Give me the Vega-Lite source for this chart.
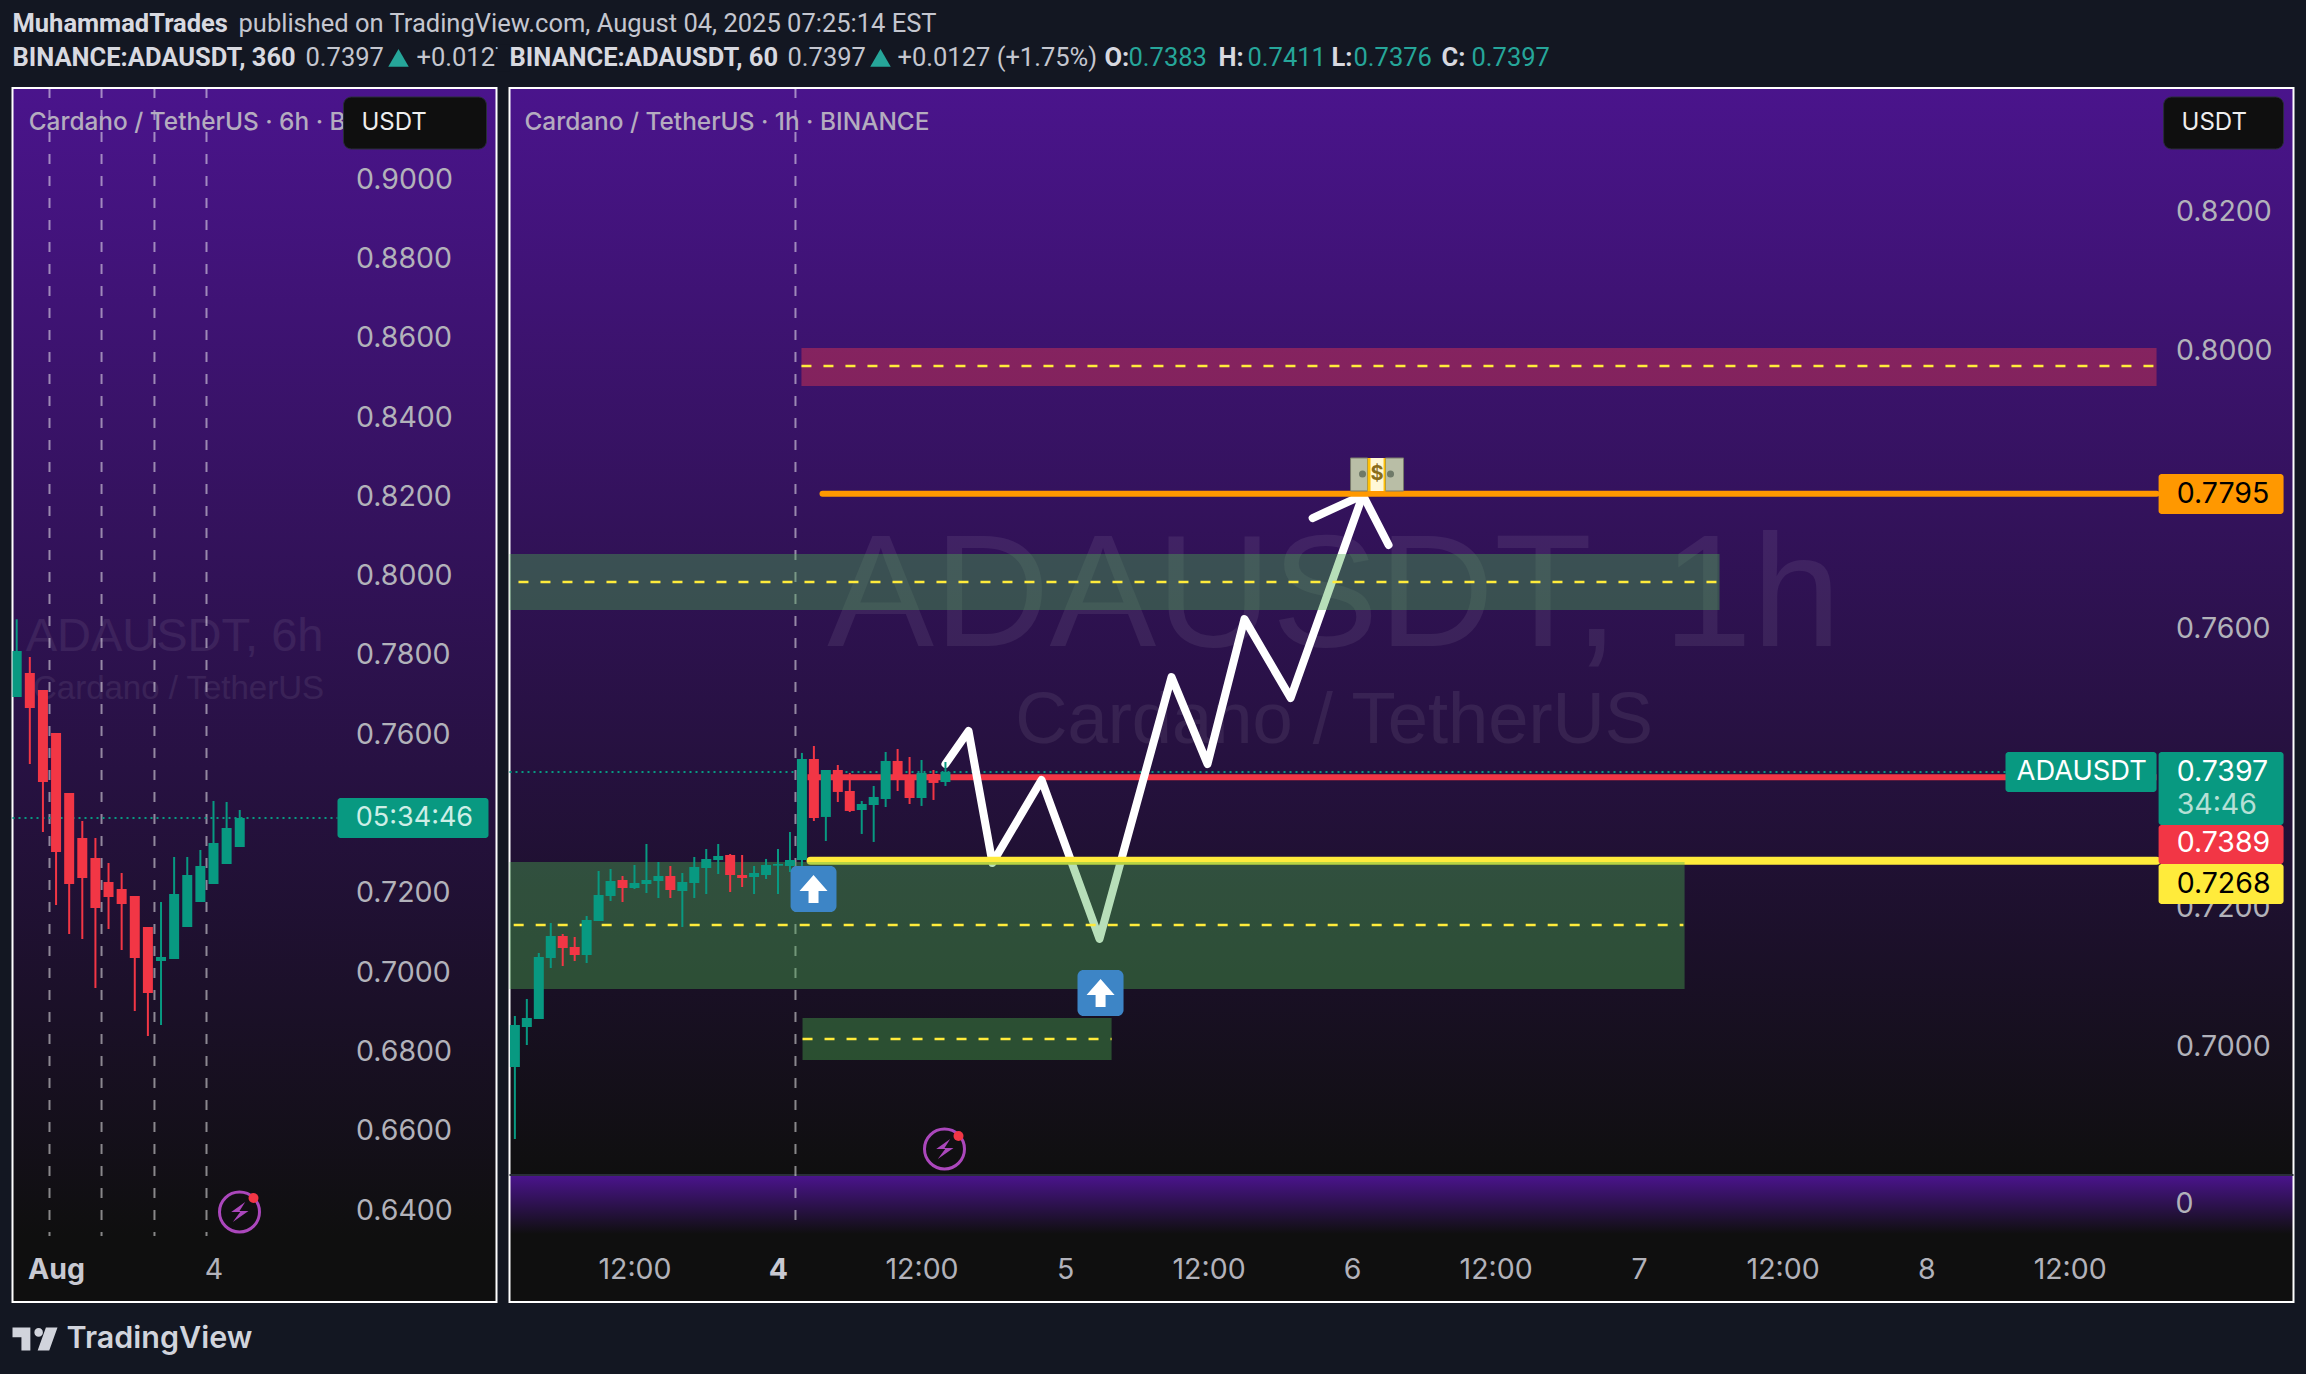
{"$schema":"https://vega.github.io/schema/vega-lite/v6.json","background":"#131722","padding":{"left":10.5,"right":13.5,"top":0,"bottom":0},"spacing":0,"config":{"font":"Inter","concat":{"spacing":0},"view":{"stroke":null}},
"vconcat":[
{"width":2280,"height":86,"view":{"stroke":null},
"encoding":{"x":{"field":"col","type":"quantitative","scale":{"domain":[12,2292],"nice":false,"zero":false},"axis":null},"y":{"field":"row","type":"quantitative","scale":{"domain":[2.824,0.294],"nice":false,"zero":false},"axis":null},"text":{"field":"label"}},
"layer":[
{"data":{"values":[{"col":238,"row":1,"label":"published on TradingView.com, August 04, 2025 07:25:14 EST"},{"col":305,"row":2,"label":"0.7397"},{"col":416,"row":2,"label":"+0.0127"},{"col":787,"row":2,"label":"0.7397"},{"col":897,"row":2,"label":"+0.0127 (+1.75%)"}]},"mark":{"type":"text","font":"Roboto","fontSize":25.5,"align":"left","baseline":"middle","color":"#c4c6cf"}},
{"data":{"values":[{"col":497,"col2":509,"row":1.6,"row2":2.4}]},"encoding":{"text":null,"x2":{"field":"col2"},"y2":{"field":"row2"}},"mark":{"type":"rect","fill":"#131722"}},
{"data":{"values":[{"col":12,"row":1,"label":"MuhammadTrades"},{"col":12,"row":2,"label":"BINANCE:ADAUSDT, 360"},{"col":509,"row":2,"label":"BINANCE:ADAUSDT, 60"},{"col":1104,"row":2,"label":"O:"},{"col":1218,"row":2,"label":"H:"},{"col":1331,"row":2,"label":"L:"},{"col":1441,"row":2,"label":"C:"}]},"mark":{"type":"text","font":"Roboto","fontWeight":"bold","fontSize":25.5,"align":"left","baseline":"middle","color":"#d8d9e0"}},
{"data":{"values":[{"col":1128,"row":2,"label":"0.7383"},{"col":1247,"row":2,"label":"0.7411"},{"col":1353,"row":2,"label":"0.7376"},{"col":1471,"row":2,"label":"0.7397"}]},"mark":{"type":"text","font":"Roboto","fontSize":25.5,"align":"left","baseline":"middle","color":"#26a69a"}},
{"data":{"values":[{"col":398,"row":2},{"col":880,"row":2}]},"encoding":{"text":null},"mark":{"type":"point","shape":"triangle-up","filled":true,"size":420,"color":"#26a69a","opacity":1}}
]},
{"hconcat":[
{"width":484,"height":1214,"view":{"fill":{"gradient":"linear","x1":0,"y1":0,"x2":0,"y2":1,"stops":[{"offset":0,"color":"#4a148c"},{"offset":0.9456,"color":"#0f0f0f"},{"offset":1,"color":"#0f0f0f"}]},"stroke":"#ffffff","strokeWidth":2},
"encoding":{"x":{"field":"t","type":"quantitative","scale":{"domain":[-91.92,129.42],"nice":false,"zero":false,"padding":0},"axis":{"orient":"bottom","values":[-72,0],"labelExpr":"datum.value==-72?'Aug':'4'","labelFontSize":28.5,"labelColor":{"condition":{"test":"datum.value==-72","value":"#c8c9d2"},"value":"#b2b2ba"},"labelFontWeight":{"condition":{"test":"datum.value==-72","value":"bold"},"value":"normal"},"labelPadding":-47,"ticks":false,"domain":false,"grid":false,"title":null,"labelOverlap":false,"labelFlush":false}},
"y":{"field":"p","type":"quantitative","scale":{"domain":[0.61688,0.92295],"nice":false,"zero":false},"axis":{"orient":"right","values":[0.64,0.66,0.68,0.7,0.72,0.76,0.78,0.8,0.82,0.84,0.86,0.88,0.9],"format":".4f","labelFontSize":28.5,"labelColor":"#b2b2ba","labelPadding":-141,"labelAlign":"left","ticks":false,"domain":false,"grid":false,"title":null,"labelOverlap":false}}},
"layer":[
{"data":{"values":[{"t":-17.8,"p":0.78446,"label":"ADAUSDT, 6h"}]},"encoding":{"text":{"field":"label"}},"mark":{"type":"text","font":"Liberation Sans","fontSize":47,"align":"center","baseline":"middle","color":"#ffffff","opacity":0.07}},
{"data":{"values":[{"t":-16,"p":0.77136,"label":"Cardano / TetherUS"}]},"encoding":{"text":{"field":"label"}},"mark":{"type":"text","font":"Liberation Sans","fontSize":33,"align":"center","baseline":"middle","color":"#ffffff","opacity":0.07}},
{"data":{"values":[{"t":-75,"p":0.92295,"p2":0.63352},{"t":-51.2,"p":0.92295,"p2":0.63352},{"t":-27,"p":0.92295,"p2":0.63352},{"t":-3.2,"p":0.92295,"p2":0.63352}]},"encoding":{"y2":{"field":"p2"}},"mark":{"type":"rule","color":"#ffffff","opacity":0.5,"strokeWidth":2,"strokeDash":[10,12]}},
{"data":{"values":[{"t":-91.92,"t2":56.7,"p":0.73891}]},"encoding":{"x2":{"field":"t2"}},"mark":{"type":"rule","color":"#089981","strokeWidth":2,"strokeDash":[2,4]}},
{"data":{"name":"c6h","values":[
{"t":-90,"open":0.76941,"high":0.78899,"low":0.76941,"close":0.781,"kind":"up"},
{"t":-84,"open":0.77546,"high":0.77949,"low":0.75251,"close":0.76663,"kind":"down"},
{"t":-78,"open":0.77117,"high":0.77117,"low":0.73537,"close":0.74798,"kind":"down"},
{"t":-72,"open":0.76033,"high":0.76033,"low":0.71697,"close":0.73033,"kind":"down"},
{"t":-66,"open":0.7452,"high":0.7452,"low":0.70966,"close":0.72226,"kind":"down"},
{"t":-60,"open":0.73386,"high":0.73814,"low":0.70839,"close":0.72377,"kind":"down"},
{"t":-54,"open":0.72881,"high":0.73386,"low":0.69604,"close":0.71621,"kind":"down"},
{"t":-48,"open":0.72276,"high":0.72755,"low":0.71092,"close":0.71898,"kind":"down"},
{"t":-42,"open":0.721,"high":0.72503,"low":0.70562,"close":0.71722,"kind":"down"},
{"t":-36,"open":0.71924,"high":0.71924,"low":0.69024,"close":0.7036,"kind":"down"},
{"t":-30,"open":0.71142,"high":0.71142,"low":0.68394,"close":0.69478,"kind":"down"},
{"t":-24,"open":0.70285,"high":0.71772,"low":0.68671,"close":0.70385,"kind":"up"},
{"t":-18,"open":0.70335,"high":0.72907,"low":0.70335,"close":0.71974,"kind":"up"},
{"t":-12,"open":0.71142,"high":0.72907,"low":0.71142,"close":0.72453,"kind":"up"},
{"t":-6,"open":0.71772,"high":0.73083,"low":0.71772,"close":0.7268,"kind":"up"},
{"t":0,"open":0.72226,"high":0.74319,"low":0.72226,"close":0.7326,"kind":"up"},
{"t":6,"open":0.7273,"high":0.74293,"low":0.7273,"close":0.73638,"kind":"up"},
{"t":12,"open":0.73159,"high":0.74092,"low":0.73159,"close":0.7389,"kind":"up"}
]},"encoding":{"y":{"field":"low","type":"quantitative","scale":{"domain":[0.61688,0.92295],"nice":false,"zero":false}},"y2":{"field":"high"},"color":{"field":"kind","type":"nominal","scale":{"domain":["up","down"],"range":["#089981","#f23645"]},"legend":null}},"mark":{"type":"rule","strokeWidth":2,"clip":true}},
{"data":{"name":"c6h"},"encoding":{"y":{"field":"open","type":"quantitative","scale":{"domain":[0.61688,0.92295],"nice":false,"zero":false}},"y2":{"field":"close"},"color":{"field":"kind","type":"nominal","scale":{"domain":["up","down"],"range":["#089981","#f23645"]},"legend":null}},"mark":{"type":"bar","size":10,"clip":true}},
{"data":{"values":[{"t":-84.5,"p":0.91412,"label":"Cardano / TetherUS · 6h · BINANCE"}]},"encoding":{"text":{"field":"label"}},"mark":{"type":"text","fontSize":24.4,"fontWeight":500,"align":"left","baseline":"middle","color":"#b4acbf"}},
{"data":{"values":[{"t":59.45,"t2":124.84,"p":0.92068,"p2":0.90757}]},"encoding":{"x2":{"field":"t2"},"y2":{"field":"p2"}},"mark":{"type":"rect","fill":"#0f0f0f","stroke":"#2a2e39","strokeWidth":1,"cornerRadius":8}},
{"data":{"values":[{"t":67.68,"p":0.91412,"label":"USDT"}]},"encoding":{"text":{"field":"label"}},"mark":{"type":"text","fontSize":24,"align":"left","baseline":"middle","color":"#eeeeee"}},
{"data":{"values":[{"t":56.7,"t2":125.76,"p":0.74395,"p2":0.73386}]},"encoding":{"x2":{"field":"t2"},"y2":{"field":"p2"}},"mark":{"type":"rect","fill":"#089981","cornerRadius":3}},
{"data":{"values":[{"t":91.9,"p":0.73891,"label":"05:34:46"}]},"encoding":{"text":{"field":"label"}},"mark":{"type":"text","fontSize":27,"align":"center","baseline":"middle","color":"#cdeee6"}},
{"data":{"values":[{"t":11.89,"p":0.63957}]},"mark":{"type":"point","shape":"circle","filled":false,"stroke":"#ab47bc","strokeWidth":3,"size":1600,"opacity":1}},
{"data":{"values":[{"t":11.89,"p":0.63957}]},"mark":{"type":"point","shape":"M.57 -1L-.83 0H.07L-.67 1L.9 -.1H0Z","filled":true,"color":"#ab47bc","size":400,"opacity":1}},
{"data":{"values":[{"t":18.29,"p":0.6431}]},"mark":{"type":"point","shape":"circle","filled":true,"color":"#f23645","size":100,"opacity":1}}
]},
{"width":1784,"height":1214,"view":{"fill":{"gradient":"linear","x1":0,"y1":0,"x2":0,"y2":1,"stops":[{"offset":0,"color":"#4a148c"},{"offset":0.8962,"color":"#0f0f0f"},{"offset":0.8962,"color":"#4a148c"},{"offset":0.944,"color":"#0f0f0f"},{"offset":1,"color":"#0f0f0f"}]},"stroke":"#ffffff","strokeWidth":2},
"encoding":{"x":{"field":"t","type":"quantitative","scale":{"domain":[-22.45,126.71],"nice":false,"zero":false,"padding":0},"axis":{"orient":"bottom","values":[-12,0,12,24,36,48,60,72,84,96,108],"labelExpr":"datum.value%24==0?''+(4+datum.value/24):'12:00'","labelFontSize":28.5,"labelColor":{"condition":{"test":"datum.value==0","value":"#c8c9d2"},"value":"#b2b2ba"},"labelFontWeight":{"condition":{"test":"datum.value==0","value":"bold"},"value":"normal"},"labelPadding":-47,"ticks":false,"domain":false,"grid":false,"title":null,"labelOverlap":false,"labelFlush":false}},
"y":{"field":"p","type":"quantitative","scale":{"domain":[0.66336,0.83766],"nice":false,"zero":false},"axis":{"orient":"right","values":[0.7,0.72,0.76,0.8,0.82],"format":".4f","labelFontSize":28.5,"labelColor":"#b2b2ba","labelPadding":-118,"labelAlign":"left","ticks":false,"domain":false,"grid":false,"title":null,"labelOverlap":false}}},
"layer":[
{"data":{"values":[{"t":-22.45,"t2":126.71,"p":0.68159}]},"encoding":{"x2":{"field":"t2"}},"mark":{"type":"rule","color":"#2a2e39","strokeWidth":2}},
{"data":{"values":[{"t":46.5,"p":0.76445,"label":"ADAUSDT, 1h"}]},"encoding":{"text":{"field":"label"}},"mark":{"type":"text","font":"Liberation Sans","fontSize":160,"align":"center","baseline":"middle","color":"#ffffff","opacity":0.07}},
{"data":{"values":[{"t":46.5,"p":0.7468,"label":"Cardano / TetherUS"}]},"encoding":{"text":{"field":"label"}},"mark":{"type":"text","font":"Liberation Sans","fontSize":72.3,"align":"center","baseline":"middle","color":"#ffffff","opacity":0.07}},
{"data":{"values":[{"t":-22.45,"t2":102.63,"p":0.73945}]},"encoding":{"x2":{"field":"t2"}},"mark":{"type":"rule","color":"#089981","strokeWidth":2,"strokeDash":[2,4]}},
{"data":{"values":[{"t":1.46,"p":0.83766,"p2":0.67355}]},"encoding":{"y2":{"field":"p2"}},"mark":{"type":"rule","color":"#ffffff","opacity":0.5,"strokeWidth":2,"strokeDash":[10,12]}},
{"data":{"values":[{"t":2.47,"t2":115.26,"p":0.7387}]},"encoding":{"x2":{"field":"t2"}},"mark":{"type":"rule","color":"#f23645","strokeWidth":6}},
{"data":{"values":[{"t":14,"p":0.7406,"leg":"a","o":1},{"t":15.93,"p":0.74534,"leg":"a","o":2},{"t":17.93,"p":0.72639,"leg":"a","o":3},{"t":22.03,"p":0.73831,"leg":"a","o":4},{"t":26.88,"p":0.71548,"leg":"a","o":5},{"t":32.9,"p":0.75309,"leg":"a","o":6},{"t":35.91,"p":0.7406,"leg":"a","o":7},{"t":39,"p":0.76142,"leg":"a","o":8},{"t":42.86,"p":0.75008,"leg":"a","o":9},{"t":48.9,"p":0.77922,"leg":"a","o":10},{"t":44.7,"p":0.77592,"leg":"b","o":1},{"t":48.9,"p":0.77922,"leg":"b","o":2},{"t":51.05,"p":0.77205,"leg":"b","o":3}]},"encoding":{"detail":{"field":"leg"},"order":{"field":"o"}},"mark":{"type":"line","color":"#ffffff","strokeWidth":8,"strokeCap":"round","strokeJoin":"round"}},
{"data":{"values":[{"t":2.72,"t2":115.26,"p":0.7267}]},"encoding":{"x2":{"field":"t2"}},"mark":{"type":"rule","color":"#ffeb3b","strokeWidth":8,"strokeCap":"round"}},
{"data":{"values":[{"t":3.72,"t2":115.26,"p":0.7794}]},"encoding":{"x2":{"field":"t2"}},"mark":{"type":"rule","color":"#ff9800","strokeWidth":6,"strokeCap":"round"}},
{"data":{"values":[{"t":-22.45,"t2":78.72,"p":0.77075,"p2":0.76271},{"t":-22.45,"t2":75.8,"p":0.72653,"p2":0.7083},{"t":2.05,"t2":27.89,"p":0.70413,"p2":0.6981}]},"encoding":{"x2":{"field":"t2"},"y2":{"field":"p2"}},"mark":{"type":"rect","fill":"#4caf50","opacity":0.4}},
{"data":{"values":[{"t":1.96,"t2":115.26,"p":0.80033,"p2":0.79487}]},"encoding":{"x2":{"field":"t2"},"y2":{"field":"p2"}},"mark":{"type":"rect","fill":"#f23c4c","opacity":0.4}},
{"data":{"values":[{"t":1.96,"t2":115.26,"p":0.79775},{"t":-21.7,"t2":78.6,"p":0.76673},{"t":-22.1,"t2":75.7,"p":0.71749},{"t":2.05,"t2":27.89,"p":0.70112}]},"encoding":{"x2":{"field":"t2"}},"mark":{"type":"rule","color":"#ffeb3b","strokeWidth":2.4,"strokeDash":[10,12]}},
{"data":{"values":[{"t":47.87,"t2":49.29,"p":0.78454,"p2":0.7798},{"t":50.79,"t2":52.3,"p":0.78454,"p2":0.7798}]},"encoding":{"x2":{"field":"t2"},"y2":{"field":"p2"}},"mark":{"type":"rect","fill":"#b9bea6","stroke":"#77796b","strokeWidth":1}},
{"data":{"values":[{"t":49.29,"t2":50.79,"p":0.78454,"p2":0.7798}]},"encoding":{"x2":{"field":"t2"},"y2":{"field":"p2"}},"mark":{"type":"rect","fill":"#ffc107"}},
{"data":{"values":[{"t":49.54,"t2":50.63,"p":0.78454,"p2":0.7798}]},"encoding":{"x2":{"field":"t2"},"y2":{"field":"p2"}},"mark":{"type":"rect","fill":"#fff8d6"}},
{"data":{"values":[{"t":50.08,"p":0.78224,"label":"$"}]},"encoding":{"text":{"field":"label"}},"mark":{"type":"text","fontSize":20,"fontWeight":"bold","align":"center","baseline":"middle","color":"#8a6d1a"}},
{"data":{"values":[{"t":48.87,"p":0.78224},{"t":51.21,"p":0.78224}]},"mark":{"type":"point","shape":"circle","filled":true,"color":"#6f7a68","size":50,"opacity":1}},
{"data":{"name":"c1h","values":[
{"t":-22,"open":0.6971,"high":0.70442,"low":0.68676,"close":0.70313,"kind":"up"},
{"t":-21,"open":0.70284,"high":0.70686,"low":0.70026,"close":0.70414,"kind":"up"},
{"t":-20,"open":0.70399,"high":0.71347,"low":0.70399,"close":0.7129,"kind":"up"},
{"t":-19,"open":0.71275,"high":0.71778,"low":0.71132,"close":0.71591,"kind":"up"},
{"t":-18,"open":0.71591,"high":0.7162,"low":0.7116,"close":0.71419,"kind":"down"},
{"t":-17,"open":0.71433,"high":0.71577,"low":0.71232,"close":0.71318,"kind":"down"},
{"t":-16,"open":0.71318,"high":0.71878,"low":0.71203,"close":0.71821,"kind":"up"},
{"t":-15,"open":0.71806,"high":0.72524,"low":0.71806,"close":0.7218,"kind":"up"},
{"t":-14,"open":0.72165,"high":0.72553,"low":0.72094,"close":0.72381,"kind":"up"},
{"t":-13,"open":0.72395,"high":0.72453,"low":0.72079,"close":0.7228,"kind":"down"},
{"t":-12,"open":0.7228,"high":0.7261,"low":0.72266,"close":0.72352,"kind":"up"},
{"t":-11,"open":0.72338,"high":0.72912,"low":0.72208,"close":0.72395,"kind":"up"},
{"t":-10,"open":0.72381,"high":0.72654,"low":0.72137,"close":0.72453,"kind":"up"},
{"t":-9,"open":0.72453,"high":0.72596,"low":0.72137,"close":0.72251,"kind":"down"},
{"t":-8,"open":0.72237,"high":0.72496,"low":0.7172,"close":0.72366,"kind":"up"},
{"t":-7,"open":0.72352,"high":0.72725,"low":0.72137,"close":0.72582,"kind":"up"},
{"t":-6,"open":0.72567,"high":0.7284,"low":0.72194,"close":0.72697,"kind":"up"},
{"t":-5,"open":0.72682,"high":0.72912,"low":0.72481,"close":0.7274,"kind":"up"},
{"t":-4,"open":0.72754,"high":0.72768,"low":0.72223,"close":0.72467,"kind":"down"},
{"t":-3,"open":0.72467,"high":0.72754,"low":0.72295,"close":0.72424,"kind":"down"},
{"t":-2,"open":0.72438,"high":0.72596,"low":0.72194,"close":0.72496,"kind":"up"},
{"t":-1,"open":0.72467,"high":0.72697,"low":0.72409,"close":0.7261,"kind":"up"},
{"t":0,"open":0.72601,"high":0.7284,"low":0.72194,"close":0.72625,"kind":"up"},
{"t":1,"open":0.72596,"high":0.73084,"low":0.7251,"close":0.72682,"kind":"up"},
{"t":2,"open":0.72682,"high":0.74219,"low":0.72496,"close":0.74132,"kind":"up"},
{"t":3,"open":0.74132,"high":0.74319,"low":0.73242,"close":0.73285,"kind":"down"},
{"t":4,"open":0.733,"high":0.73974,"low":0.72955,"close":0.73974,"kind":"up"},
{"t":5,"open":0.73974,"high":0.74046,"low":0.73515,"close":0.73659,"kind":"down"},
{"t":6,"open":0.73673,"high":0.73931,"low":0.73371,"close":0.73386,"kind":"down"},
{"t":7,"open":0.734,"high":0.73529,"low":0.73056,"close":0.73486,"kind":"up"},
{"t":8,"open":0.73472,"high":0.73745,"low":0.72941,"close":0.73587,"kind":"up"},
{"t":9,"open":0.73558,"high":0.74233,"low":0.73443,"close":0.74104,"kind":"up"},
{"t":10,"open":0.74104,"high":0.74276,"low":0.73673,"close":0.73831,"kind":"down"},
{"t":11,"open":0.73831,"high":0.74161,"low":0.73486,"close":0.73572,"kind":"down"},
{"t":12,"open":0.73572,"high":0.74118,"low":0.73458,"close":0.73931,"kind":"up"},
{"t":13,"open":0.73917,"high":0.73974,"low":0.73544,"close":0.73788,"kind":"down"},
{"t":14,"open":0.73802,"high":0.74089,"low":0.73745,"close":0.73946,"kind":"up"}
]},"encoding":{"y":{"field":"low","type":"quantitative","scale":{"domain":[0.66336,0.83766],"nice":false,"zero":false}},"y2":{"field":"high"},"color":{"field":"kind","type":"nominal","scale":{"domain":["up","down"],"range":["#089981","#f23645"]},"legend":null}},"mark":{"type":"rule","strokeWidth":2,"clip":true}},
{"data":{"name":"c1h"},"encoding":{"y":{"field":"open","type":"quantitative","scale":{"domain":[0.66336,0.83766],"nice":false,"zero":false}},"y2":{"field":"close"},"color":{"field":"kind","type":"nominal","scale":{"domain":["up","down"],"range":["#089981","#f23645"]},"legend":null}},"mark":{"type":"bar","size":10,"clip":true}},
{"data":{"values":[{"t":1.05,"t2":4.89,"p":0.72596,"p2":0.71935},{"t":25.04,"t2":28.89,"p":0.71103,"p2":0.70442}]},"encoding":{"x2":{"field":"t2"},"y2":{"field":"p2"}},"mark":{"type":"rect","fill":"#3d85c6","cornerRadius":6}},
{"data":{"values":[{"t":2.97,"p":0.72265},{"t":26.97,"p":0.70773}]},"mark":{"type":"point","shape":"M0 -.61L.61 .087H.217V.61H-.217V.087H-.61Z","filled":true,"color":"#ffffff","size":2116,"opacity":1}},
{"data":{"values":[{"t":13.92,"p":0.68533}]},"mark":{"type":"point","shape":"circle","filled":false,"stroke":"#ab47bc","strokeWidth":3,"size":1600,"opacity":1}},
{"data":{"values":[{"t":13.92,"p":0.68533}]},"mark":{"type":"point","shape":"M.57 -1L-.83 0H.07L-.67 1L.9 -.1H0Z","filled":true,"color":"#ab47bc","size":400,"opacity":1}},
{"data":{"values":[{"t":15.09,"p":0.68719}]},"mark":{"type":"point","shape":"circle","filled":true,"color":"#f23645","size":100,"opacity":1}},
{"data":{"values":[{"t":-21.2,"p":0.83263,"label":"Cardano / TetherUS · 1h · BINANCE"}]},"encoding":{"text":{"field":"label"}},"mark":{"type":"text","fontSize":24.4,"fontWeight":500,"align":"left","baseline":"middle","color":"#b4acbf"}},
{"data":{"values":[{"t":115.85,"t2":125.88,"p":0.83637,"p2":0.8289}]},"encoding":{"x2":{"field":"t2"},"y2":{"field":"p2"}},"mark":{"type":"rect","fill":"#0f0f0f","stroke":"#2a2e39","strokeWidth":1,"cornerRadius":8}},
{"data":{"values":[{"t":117.35,"p":0.83263,"label":"USDT"}]},"encoding":{"text":{"field":"label"}},"mark":{"type":"text","fontSize":24,"align":"left","baseline":"middle","color":"#eeeeee"}},
{"data":{"values":[{"t":102.63,"t2":115.26,"p":0.74232,"p2":0.73658},{"t":115.43,"t2":125.88,"p":0.74232,"p2":0.73184}]},"encoding":{"x2":{"field":"t2"},"y2":{"field":"p2"}},"mark":{"type":"rect","fill":"#089981","cornerRadius":3}},
{"data":{"values":[{"t":115.43,"t2":125.88,"p":0.73184,"p2":0.72625}]},"encoding":{"x2":{"field":"t2"},"y2":{"field":"p2"}},"mark":{"type":"rect","fill":"#f23645","cornerRadius":3}},
{"data":{"values":[{"t":115.43,"t2":125.88,"p":0.72625,"p2":0.7205}]},"encoding":{"x2":{"field":"t2"},"y2":{"field":"p2"}},"mark":{"type":"rect","fill":"#ffeb3b","cornerRadius":3}},
{"data":{"values":[{"t":115.43,"t2":125.88,"p":0.78224,"p2":0.7765}]},"encoding":{"x2":{"field":"t2"},"y2":{"field":"p2"}},"mark":{"type":"rect","fill":"#ff9800","cornerRadius":3}},
{"data":{"values":[{"t":109,"p":0.73945,"label":"ADAUSDT"}]},"encoding":{"text":{"field":"label"}},"mark":{"type":"text","fontSize":27.3,"align":"center","baseline":"middle","color":"#ffffff"}},
{"data":{"values":[{"t":116.94,"p":0.73945,"label":"0.7397"},{"t":116.94,"p":0.72926,"label":"0.7389"}]},"encoding":{"text":{"field":"label"}},"mark":{"type":"text","fontSize":28.5,"align":"left","baseline":"middle","color":"#ffffff"}},
{"data":{"values":[{"t":116.94,"p":0.73472,"label":"34:46"}]},"encoding":{"text":{"field":"label"}},"mark":{"type":"text","fontSize":28.5,"align":"left","baseline":"middle","color":"#b5e0d6"}},
{"data":{"values":[{"t":116.94,"p":0.72337,"label":"0.7268"},{"t":116.94,"p":0.77937,"label":"0.7795"}]},"encoding":{"text":{"field":"label"}},"mark":{"type":"text","fontSize":28.5,"align":"left","baseline":"middle","color":"#000000"}},
{"data":{"values":[{"t":116.85,"p":0.67743,"label":"0"}]},"encoding":{"text":{"field":"label"}},"mark":{"type":"text","fontSize":28.5,"align":"left","baseline":"middle","color":"#b2b2ba"}}
]}
],"spacing":10},
{"width":2280,"height":72,"view":{"stroke":null},
"encoding":{"x":{"field":"col","type":"quantitative","scale":{"domain":[12,2292],"nice":false,"zero":false},"axis":null},"y":{"field":"row","type":"quantitative","scale":{"domain":[72,0],"nice":false,"zero":false},"axis":null}},
"layer":[
{"data":{"values":[{"col":34.5,"row":36}]},"mark":{"type":"point","shape":"M-1 -.515H-.206V.515H-.603V-.074H-1ZM.352 -.294A.19 .19 0 1 1 -.028 -.294A.19 .19 0 1 1 .352 -.294ZM.485 -.515H1L.632 .515H.118Z","filled":true,"color":"#d1d4dc","size":2025,"opacity":1}},
{"data":{"values":[{"col":66,"row":36,"label":"TradingView"}]},"encoding":{"text":{"field":"label"}},"mark":{"type":"text","fontSize":30.5,"fontWeight":600,"align":"left","baseline":"middle","color":"#d1d4dc"}}
]}
]}
